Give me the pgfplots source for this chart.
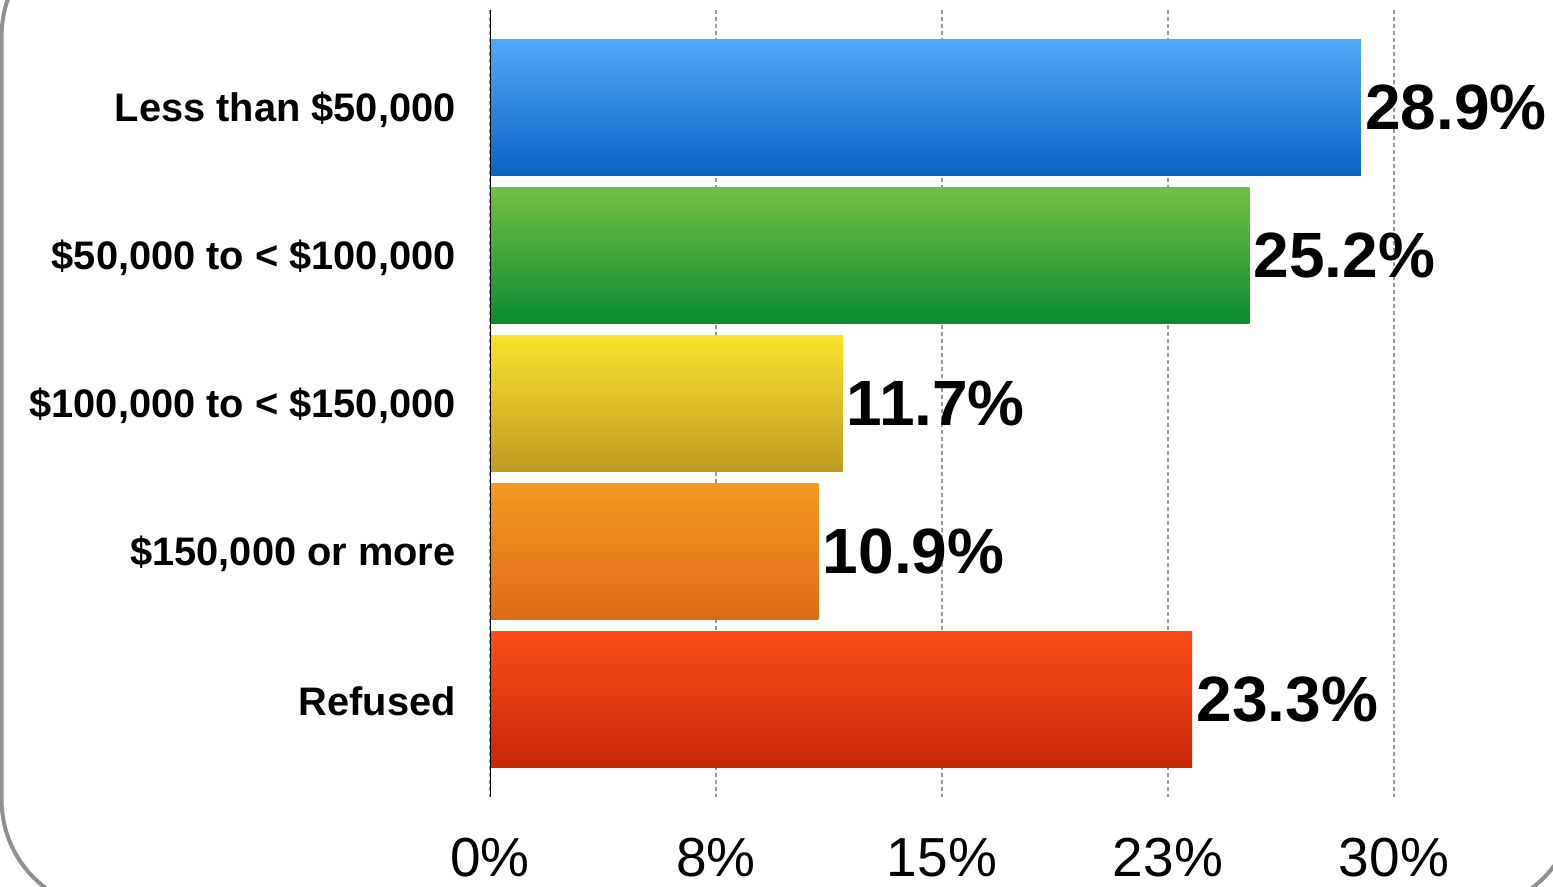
\documentclass[border=0pt]{standalone}
\usepackage{fontspec}
\setmainfont{Liberation Sans}
\usepackage{pgfplots}
\pgfplotsset{compat=1.18}
\definecolor{bluetop}{HTML}{52A8F8}
\definecolor{bluebot}{HTML}{0A62C2}
\definecolor{greentop}{HTML}{74C043}
\definecolor{greenbot}{HTML}{0A8A30}
\definecolor{yeltop}{HTML}{FAE22C}
\definecolor{yelbot}{HTML}{BF9A22}
\definecolor{orgtop}{HTML}{F29A22}
\definecolor{orgbot}{HTML}{DE6A14}
\definecolor{redtop}{HTML}{FA4E18}
\definecolor{redbot}{HTML}{C82608}
\definecolor{framegray}{HTML}{8E9094}
\definecolor{gridgray}{HTML}{9A9A9A}
\begin{document}
\begin{tikzpicture}
\draw[framegray, line width=2pt, rounded corners=55pt] (0.8pt,37pt) rectangle (788pt,-455pt);
\begin{axis}[
  at={(245pt,-398.5pt)}, anchor=south west,
  scale only axis, width=452pt, height=393.5pt,
  xmin=0, xmax=30, ymin=-0.66, ymax=4.66,
  y dir=reverse,
  axis line style={draw=none},
  major tick length=0pt,
  xtick={0,7.5,15,22.5,30},
  xticklabels={0\%,8\%,15\%,23\%,30\%},
  xticklabel style={anchor=center, yshift=-30.5pt, font=\fontsize{27.5}{30}\selectfont},
  ytick={0,1,2,3,4},
  yticklabels={{Less than \$50,000}, {\$50,000 to < \$100,000}, {\$100,000 to < \$150,000}, {\$150,000 or more}, {Refused}},
  yticklabel style={anchor=east, inner sep=0pt, xshift=-17pt, yshift=-1pt, font=\bfseries\fontsize{19.9}{22}\selectfont},
  xmajorgrids,
  grid style={gridgray, line width=1.1pt, dash pattern=on 2pt off 1.5pt},
  /pgf/number format/assume math mode=true,
  point meta=x,
  nodes near coords={\pgfmathprintnumber[fixed,precision=1,fixed zerofill]{\pgfplotspointmeta}\%},
  nodes near coords style={anchor=west, inner sep=2pt, font=\bfseries\fontsize{32}{34}\selectfont},
  bar width=68pt,
]
\addplot[xbar, bar shift=0pt, draw=none, top color=bluetop, bottom color=bluebot] coordinates {(28.9,0)};
\addplot[xbar, bar shift=0pt, draw=none, top color=greentop, bottom color=greenbot] coordinates {(25.2,1)};
\addplot[xbar, bar shift=0pt, draw=none, top color=yeltop, bottom color=yelbot] coordinates {(11.7,2)};
\addplot[xbar, bar shift=0pt, draw=none, top color=orgtop, bottom color=orgbot] coordinates {(10.9,3)};
\addplot[xbar, bar shift=0pt, draw=none, top color=redtop, bottom color=redbot] coordinates {(23.3,4)};
\draw[black, line width=1.2pt] (axis cs:0,-0.66) -- (axis cs:0,4.66);
\end{axis}
\pgfresetboundingbox
\useasboundingbox (0,0) rectangle (776.5pt,-443.5pt);
\end{tikzpicture}
\end{document}
